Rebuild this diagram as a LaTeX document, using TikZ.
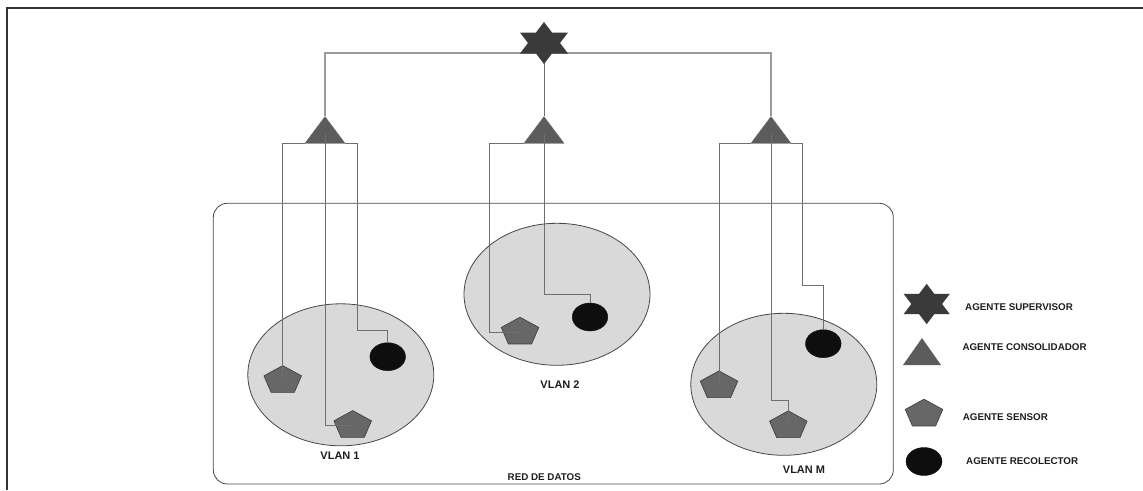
\documentclass[tikz,border=0pt]{standalone}
\usepackage{fontspec}
\setmainfont{Liberation Sans}
\usetikzlibrary{shapes.geometric}
\definecolor{vlanfill}{HTML}{D9D9D9}
\definecolor{vlanline}{HTML}{474747}
\definecolor{supfill}{HTML}{3A3A3A}
\definecolor{confill}{HTML}{5C5C5C}
\definecolor{senfill}{HTML}{676767}
\definecolor{senline}{HTML}{3A3A3A}
\definecolor{recfill}{HTML}{0E0E0E}
\definecolor{wirecol}{HTML}{6E6E6E}
\definecolor{buscol}{HTML}{9A9A9A}
\definecolor{framecol}{HTML}{333333}
\definecolor{txtcol}{HTML}{1E1E1E}
\tikzset{
  vlan/.style={ellipse, draw=vlanline, fill=vlanfill, line width=0.8pt, minimum width=186pt, minimum height=142pt, inner sep=0pt},
  consol/.style={regular polygon, regular polygon sides=3, fill=confill, draw=confill, line width=0.3pt, minimum size=46.2pt, inner sep=0pt, yscale=0.77},
  sensor/.style={regular polygon, regular polygon sides=5, fill=senfill, draw=senline, line width=0.6pt, minimum size=39.5pt, inner sep=0pt, yscale=0.75},
  recol/.style={ellipse, fill=recfill, draw=recfill, minimum width=35.6pt, minimum height=28pt, inner sep=0pt},
  wire/.style={draw=wirecol, line width=0.9pt},
  bus/.style={draw=buscol, line width=1.6pt},
  lbl/.style={text=txtcol, font=\bfseries\fontsize{9.8pt}{12pt}\selectfont, inner sep=0pt},
  vlbl/.style={text=txtcol, font=\bfseries\fontsize{11pt}{13pt}\selectfont, inner sep=0pt},
  leglbl/.style={lbl, anchor=west},
}
\newcommand{\starshape}[2]{%
  \fill[supfill, shift={(#1)}, scale=#2] (0,-21) -- (8,-10.5) -- (24,-10.5) -- (16,0) -- (24,10.5) -- (8,10.5) -- (0,21) -- (-8,10.5) -- (-24,10.5) -- (-16,0) -- (-24,-10.5) -- (-8,-10.5) -- cycle;}
\begin{document}
\begin{tikzpicture}[x=1pt, y=-1pt]
\useasboundingbox (0,0) rectangle (1143,490);
% outer frame
\coordinate (fbl) at (7,490);
\coordinate (ftl) at (7,8);
\coordinate (ftr) at (1143,8);
\draw[framecol, line width=1.3pt] (fbl) -- (ftl) -- (ftr);
% data network
\draw[vlanline, line width=0.8pt, rounded corners=14pt] (213.3,203.3) rectangle (893.3,484);
\node[lbl] (red) at (544.3,476.7) {RED DE DATOS};
% VLANs
\node[vlan] (v1) at (340.8,374.8) {};
\node[vlan] (v2) at (557,294.3) {};
\node[vlan] (vm) at (783.8,384.3) {};
\node[vlbl] (v1l) at (340,456) {VLAN 1};
\node[vlbl] (v2l) at (560,385) {VLAN 2};
\node[vlbl] (vml) at (804,469.3) {VLAN M};
% supervisor position
\coordinate (sup) at (544,43);
% consolidators
\node[consol] (c1) at (325,134.4) {};
\node[consol] (c2) at (544,134.4) {};
\node[consol] (c3) at (771,134.4) {};
% sensors
\node[sensor] (s11) at (282.7,380.4) {};
\node[sensor] (s12) at (352.7,425.4) {};
\node[sensor] (s21) at (520,332) {};
\node[sensor] (s31) at (719,385.7) {};
\node[sensor] (s32) at (788.3,425.7) {};
% collectors
\node[recol] (r1) at (387.7,356.7) {};
\node[recol] (r2) at (590,317) {};
\node[recol] (r3) at (823.3,343.7) {};
% bus
\coordinate (busl) at (325,53);
\coordinate (busr) at (771,53);
\draw[bus] (c1.corner 1) -- (busl) -- (busr) -- (c3.corner 1);
\draw[wire] (sup) -- (c2.corner 1);
% supervisor star drawn over the bus
\starshape{sup}{1}
% VLAN 1 wiring
\coordinate (k1) at (357,330.7);
\draw[wire] (c1.corner 2) -| (s11.center);
\draw[wire] (c1.center) |- (s12.center);
\draw[wire] (c1.corner 3) -| (k1) -| (r1.north);
% VLAN 2 wiring
\coordinate (k2) at (489,332);
\coordinate (k3) at (544,294.3);
\draw[wire] (c2.corner 2) -| (k2) -- (s21.center);
\draw[wire] (c2.center) -- (k3) -| (r2.north);
% VLAN M wiring
\coordinate (k5) at (771,400.7);
\coordinate (k6) at (802,285);
\draw[wire] (c3.corner 2) -| (s31.center);
\draw[wire] (c3.center) -- (k5) -| (s32.center);
\draw[wire] (c3.corner 3) -| (k6) -| (r3.north);
% legend
\coordinate (lsup) at (926.7,304);
\starshape{lsup}{0.96}
\node[consol, minimum size=43.2pt, yscale=1.065] (lcon) at (922,356.1) {};
\node[sensor] (lsen) at (924,414) {};
\node[recol, minimum width=36pt] (lrec) at (924,461.5) {};
\node[leglbl] (t1) at (965,306.7) {AGENTE SUPERVISOR};
\node[leglbl] (t2) at (962.3,347.3) {AGENTE CONSOLIDADOR};
\node[leglbl] (t3) at (962.7,416.7) {AGENTE SENSOR};
\node[leglbl] (t4) at (966,461) {AGENTE RECOLECTOR};
\end{tikzpicture}
\end{document}
